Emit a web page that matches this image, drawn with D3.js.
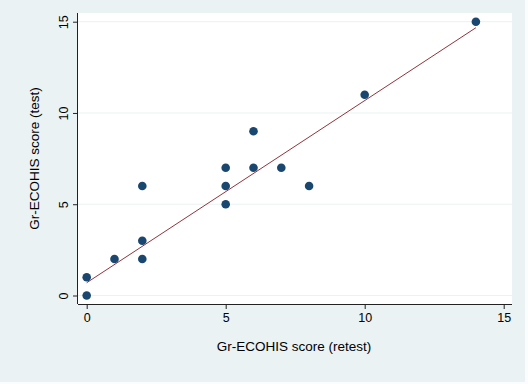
<!DOCTYPE html>
<meta charset="utf-8">
<style>
  body { margin: 0; background: #fff; }
  text { font-family: Arial, "Liberation Sans", sans-serif; fill: #000; }
  .grid line { stroke: #eaf2f3; stroke-width: 1; }
  .axis path, .axis line { stroke: #222; }
</style>
<body>
<script src="https://d3js.org/d3.v7.min.js"></script>
<script>
  // retest score (x) vs test score (y)
  var retest = [0, 0, 1, 2, 2, 2, 5, 5, 5, 6, 6, 7, 8, 10, 14];
  var test   = [0, 1, 2, 2, 3, 6, 5, 6, 7, 7, 9, 7, 6, 11, 15];
  // fitted line endpoints
  var fitX = [0, 14];
  var fitY = [0.7, 14.67];
  var xTicks = [0, 5, 10, 15];
  var yTicks = [0, 5, 10, 15];

  var W = 528, H = 384;
  var svg = d3.select("body").append("svg")
    .attr("width", W).attr("height", H);

  // outer stata-ish background
  svg.append("rect").attr("width", W).attr("height", H).attr("fill", "#fbfdfd");
  svg.append("rect").attr("width", 525).attr("height", 382).attr("fill", "#eaf2f3");

  var plot = { left: 78, right: 512, top: 13, bottom: 304 };
  svg.append("rect")
    .attr("x", plot.left).attr("y", plot.top)
    .attr("width", plot.right - plot.left).attr("height", plot.bottom - plot.top)
    .attr("fill", "#fff");

  var x = d3.scaleLinear().domain([0, 15]).range([86.7, 503.7]);
  var y = d3.scaleLinear().domain([0, 15]).range([295.5, 21.7]);

  // gridlines
  svg.append("g").attr("class", "grid")
    .selectAll("line").data(yTicks).enter().append("line")
    .attr("x1", plot.left).attr("x2", plot.right)
    .attr("y1", function (d) { return y(d); })
    .attr("y2", function (d) { return y(d); });

  // axes
  var xAxis = svg.append("g").attr("class", "axis")
    .attr("transform", "translate(0," + plot.bottom + ")")
    .call(d3.axisBottom(x).tickValues(xTicks).tickSize(5).tickPadding(4).tickSizeOuter(0));
  xAxis.select(".domain").attr("d", "M" + plot.left + ",0.5H" + plot.right);
  xAxis.selectAll("text").style("font-size", "12.5px");

  var yAxis = svg.append("g").attr("class", "axis")
    .attr("transform", "translate(" + plot.left + ",0)")
    .call(d3.axisLeft(y).tickValues(yTicks).tickSize(5).tickPadding(3).tickSizeOuter(0));
  yAxis.select(".domain").attr("d", "M-0.5," + plot.top + "V" + plot.bottom);
  yAxis.selectAll("text")
    .style("font-size", "12.5px")
    .attr("text-anchor", "middle")
    .attr("dy", "0")
    .attr("x", 0).attr("y", 0)
    .attr("transform", "translate(-10,0) rotate(-90)");

  // titles
  svg.append("text")
    .attr("x", 294).attr("y", 351)
    .attr("text-anchor", "middle").style("font-size", "13.5px")
    .text("Gr-ECOHIS score (retest)");
  svg.append("text")
    .attr("transform", "translate(39," + ((plot.top + plot.bottom) / 2) + ") rotate(-90)")
    .attr("text-anchor", "middle").style("font-size", "13.5px")
    .text("Gr-ECOHIS score (test)");

  // points
  svg.append("g").selectAll("circle")
    .data(retest.map(function (d, i) { return [d, test[i]]; }))
    .enter().append("circle")
    .attr("cx", function (d) { return x(d[0]); })
    .attr("cy", function (d) { return y(d[1]); })
    .attr("r", 4.3)
    .attr("fill", "#1a476f");

  // fitted line
  svg.append("path")
    .datum(fitX.map(function (d, i) { return [d, fitY[i]]; }))
    .attr("fill", "none").attr("stroke", "#90353b").attr("stroke-width", 1)
    .attr("d", d3.line().x(function (d) { return x(d[0]); }).y(function (d) { return y(d[1]); }));
</script>
</body>
